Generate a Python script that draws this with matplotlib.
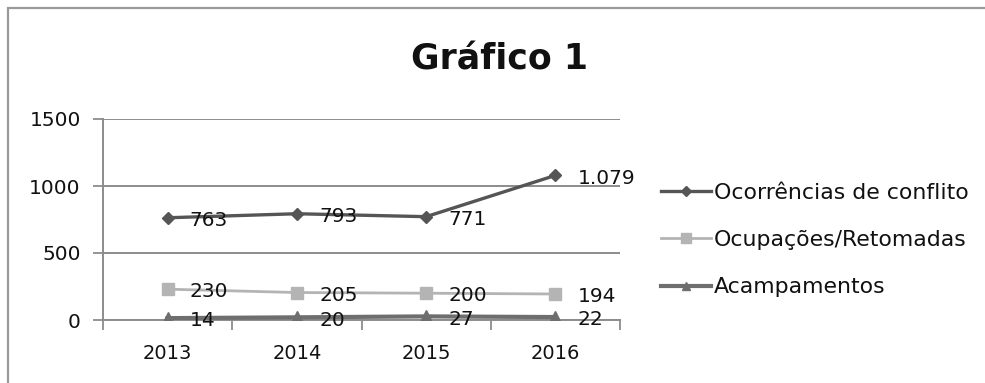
import matplotlib.pyplot as plt
from matplotlib.patches import Rectangle

anos = ["2013", "2014", "2015", "2016"]
ocorrencias = [763, 793, 771, 1079]
ocupacoes = [230, 205, 200, 194]
acampamentos = [14, 20, 27, 22]

plt.rcParams['font.family'] = ['DejaVu Sans']

def fmt(v):
    # separador de milhar em português
    return f"{v:,}".replace(",", ".")

fig = plt.figure(figsize=(9.85, 3.83), dpi=100)
fig.patch.set_facecolor("white")

# moldura do gráfico
fig.patches.append(Rectangle((8 / 985, -0.1), 1.2, 1 - 8 / 383 + 0.1,
                             transform=fig.transFigure, fill=False,
                             edgecolor="#9a9a9a", linewidth=1.6))

ax = fig.add_axes([103 / 985, 1 - 320 / 383, (620 - 103) / 985, (320 - 119) / 383])

x = range(len(anos))
series = [
    ("Ocorrências de conflito", ocorrencias, "#555555", "D", 6, 2.4),
    ("Ocupações/Retomadas", ocupacoes, "#b4b4b4", "s", 9, 2.0),
    ("Acampamentos", acampamentos, "#6e6e6e", "^", 8, 3.0),
]
for nome, vals, cor, mk, ms, lw in series:
    ax.plot(x, vals, color=cor, marker=mk, markersize=ms, linewidth=lw,
            label=nome, zorder=3)
    for xi, v in zip(x, vals):
        ax.annotate(fmt(v), (xi, v), xytext=(16, -2), textcoords="offset points",
                    ha="left", va="center", fontsize=14.5, color="#111111", zorder=4)

ax.set_xlim(-0.5, 3.5)
ax.set_ylim(0, 1500)
ax.set_yticks([0, 500, 1000, 1500])
ax.set_xticks(list(x))
ax.set_xticklabels(anos)
ax.set_xticks([-0.5, 0.5, 1.5, 2.5, 3.5], minor=True)
ax.tick_params(axis="x", which="major", length=0, pad=17, labelsize=14, labelcolor="#111111")
ax.tick_params(axis="x", which="minor", length=7, width=1.3, color="#8c8c8c")
ax.tick_params(axis="y", length=7, width=1.3, color="#8c8c8c", pad=9,
               labelsize=14.5, labelcolor="#111111")
ax.grid(axis="y", color="#8c8c8c", linewidth=1.4)
ax.set_axisbelow(True)
for s in ["top", "right"]:
    ax.spines[s].set_visible(False)
for s in ["left", "bottom"]:
    ax.spines[s].set_color("#8c8c8c")
    ax.spines[s].set_linewidth(1.4)

fig.text(500 / 985, 1 - 59 / 383, "Gráfico 1", ha="center", va="center",
         fontsize=25, fontweight="bold", color="#111111")

fig.legend(loc="center left", bbox_to_anchor=(661 / 985, 1 - 240 / 383),
           frameon=False, fontsize=15.8, handlelength=2.3, handletextpad=0.1,
           labelspacing=1.25, borderaxespad=0, borderpad=0, markerscale=0.8,
           labelcolor="#111111")

fig.savefig("out.png", dpi=100)
